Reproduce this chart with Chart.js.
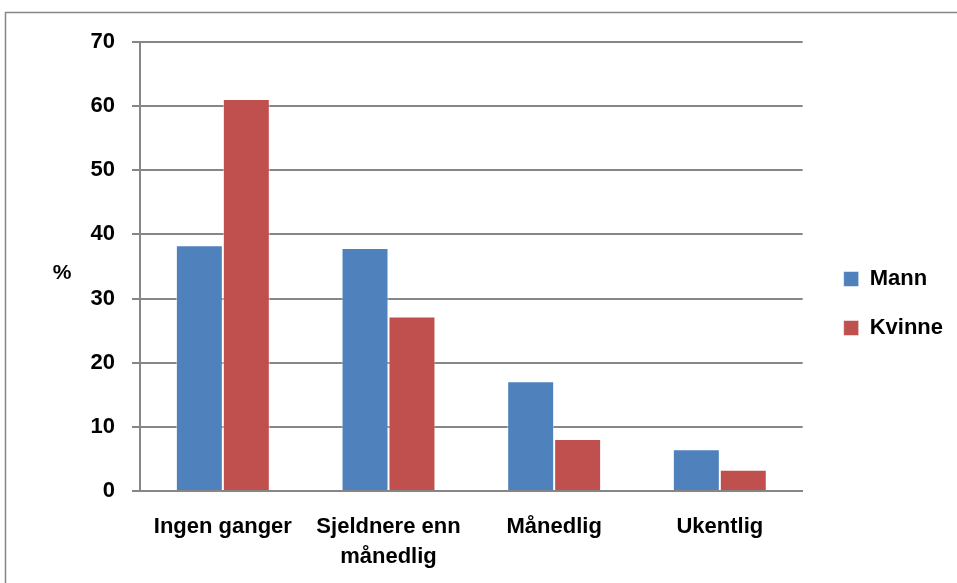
<!DOCTYPE html>
<html><head><meta charset="utf-8">
<script src="https://cdn.jsdelivr.net/npm/chart.js@4/dist/chart.umd.min.js"></script>
<style>html,body{margin:0;padding:0;background:#fff;}canvas{display:block;}</style>
</head><body>
<canvas id="c" width="957" height="583"></canvas>
<script>
const categories = [["Ingen ganger"], ["Sjeldnere enn", "månedlig"], ["Månedlig"], ["Ukentlig"]];
const mann = [38.3, 37.9, 17.1, 6.5];
const kvinne = [61.1, 27.2, 8.1, 3.3];
const yTicks = [0, 10, 20, 30, 40, 50, 60, 70];
const yTitle = "%";

const FONT = "'Liberation Sans', Arial, sans-serif";

const framePlugin = {
  id: 'frame',
  afterLayout(chart) {
    const lg = chart.legend;
    if (lg) {
      lg.left += 14; lg.right += 14;
      lg.bottom -= 8;
    }
  },
  beforeDraw(chart) {
    const ctx = chart.ctx;
    ctx.save();
    ctx.strokeStyle = '#868686';
    ctx.lineWidth = 1.5;
    ctx.beginPath();
    ctx.moveTo(5.5, 583);
    ctx.lineTo(5.5, 12.5);
    ctx.lineTo(957, 12.5);
    ctx.stroke();
    ctx.restore();
  },
  afterDraw(chart) {
    const ctx = chart.ctx;
    const a = chart.chartArea;
    ctx.save();
    ctx.fillStyle = '#000';
    ctx.font = "bold 21px " + FONT;
    ctx.textAlign = 'center';
    ctx.textBaseline = 'middle';
    ctx.fillText(yTitle, 62, (a.top + a.bottom) / 2 + 7);
    ctx.restore();
  }
};

new Chart(document.getElementById('c'), {
  type: 'bar',
  data: {
    labels: categories,
    datasets: [
      { label: 'Mann', data: mann, backgroundColor: '#4f81bd', borderColor: 'rgba(255,255,255,0.5)', borderWidth: 1 },
      { label: 'Kvinne', data: kvinne, backgroundColor: '#c0504d', borderColor: 'rgba(255,255,255,0.5)', borderWidth: 1 }
    ]
  },
  options: {
    responsive: false,
    animation: false,
    layout: { padding: { left: 20, top: 42, right: 18, bottom: 10 } },
    datasets: { bar: { categoryPercentage: 0.567, barPercentage: 1.0 } },
    plugins: {
      legend: {
        position: 'right',
        labels: {
          boxWidth: 15, boxHeight: 15, padding: 27,
          color: '#000',
          font: { family: FONT, size: 22, weight: 'bold' }
        }
      },
      tooltip: { enabled: false }
    },
    scales: {
      x: {
        afterFit(scale) { scale.height = 82; },
        grid: { display: false, drawTicks: false },
        border: { display: true, color: '#868686', width: 2 },
        ticks: { color: '#000', padding: 21, font: { family: FONT, size: 22, weight: 'bold', lineHeight: 1.36 }, maxRotation: 0, autoSkip: false }
      },
      y: {
        min: 0, max: 70,
        afterBuildTicks(scale) { scale.ticks = yTicks.map(v => ({ value: v })); },
        afterFit(scale) { scale.width = 120; },
        grid: { color: '#868686', lineWidth: 2, tickLength: 8, tickColor: '#868686' },
        border: { display: true, color: '#868686', width: 2 },
        ticks: { color: '#000', padding: 17, font: { family: FONT, size: 22, weight: 'bold' } }
      }
    }
  },
  plugins: [framePlugin]
});
</script>
</body></html>
